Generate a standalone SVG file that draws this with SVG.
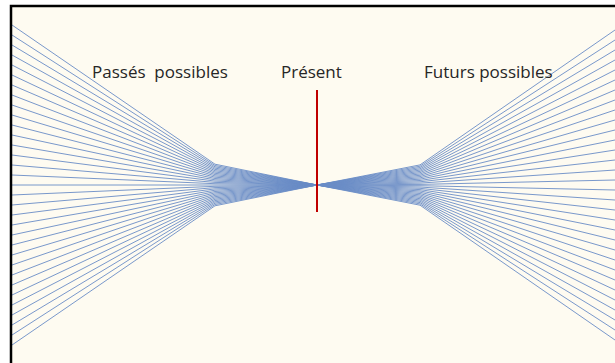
<svg xmlns="http://www.w3.org/2000/svg" width="615" height="363" viewBox="0 0 615 363">
<style>
.ln{fill:none;stroke:#6a8cc6;stroke-width:0.9;stroke-linejoin:round}
.lb{font-family:"Open Sans","Liberation Sans",sans-serif;font-size:17px;fill:#262626;white-space:pre}
</style>
<rect x="0" y="0" width="615" height="363" fill="#ffffff"/>
<rect x="11" y="6" width="604" height="357" fill="#fefbf1"/>
<g id="connectors">
<g id="past">
<polyline class="ln" points="12,25 215,164.2 317,185"/>
<polyline class="ln" points="12,35 215,165.5 317,185"/>
<polyline class="ln" points="12,45 215,166.8 317,185"/>
<polyline class="ln" points="12,55 215,168.1 317,185"/>
<polyline class="ln" points="12,65 215,169.4 317,185"/>
<polyline class="ln" points="12,75 215,170.7 317,185"/>
<polyline class="ln" points="12,85 215,172 317,185"/>
<polyline class="ln" points="12,95 215,173.3 317,185"/>
<polyline class="ln" points="12,105 215,174.6 317,185"/>
<polyline class="ln" points="12,115 215,175.9 317,185"/>
<polyline class="ln" points="12,125 215,177.2 317,185"/>
<polyline class="ln" points="12,135 215,178.5 317,185"/>
<polyline class="ln" points="12,145 215,179.8 317,185"/>
<polyline class="ln" points="12,155 215,181.1 317,185"/>
<polyline class="ln" points="12,165 215,182.4 317,185"/>
<polyline class="ln" points="12,175 215,183.7 317,185"/>
<polyline class="ln" points="12,185 215,185 317,185"/>
<polyline class="ln" points="12,195 215,186.3 317,185"/>
<polyline class="ln" points="12,205 215,187.6 317,185"/>
<polyline class="ln" points="12,215 215,188.9 317,185"/>
<polyline class="ln" points="12,225 215,190.2 317,185"/>
<polyline class="ln" points="12,235 215,191.5 317,185"/>
<polyline class="ln" points="12,245 215,192.8 317,185"/>
<polyline class="ln" points="12,255 215,194.1 317,185"/>
<polyline class="ln" points="12,265 215,195.4 317,185"/>
<polyline class="ln" points="12,275 215,196.7 317,185"/>
<polyline class="ln" points="12,285 215,198 317,185"/>
<polyline class="ln" points="12,295 215,199.3 317,185"/>
<polyline class="ln" points="12,305 215,200.6 317,185"/>
<polyline class="ln" points="12,315 215,201.9 317,185"/>
<polyline class="ln" points="12,325 215,203.2 317,185"/>
<polyline class="ln" points="12,335 215,204.5 317,185"/>
<polyline class="ln" points="12,345 215,205.8 317,185"/>
</g>
<g id="future">
<polyline class="ln" points="317,185 420,164.9 615,30"/>
<polyline class="ln" points="317,185 420,166.2 615,40"/>
<polyline class="ln" points="317,185 420,167.5 615,50"/>
<polyline class="ln" points="317,185 420,168.8 615,60"/>
<polyline class="ln" points="317,185 420,170.1 615,70"/>
<polyline class="ln" points="317,185 420,171.4 615,80"/>
<polyline class="ln" points="317,185 420,172.7 615,90"/>
<polyline class="ln" points="317,185 420,174 615,100"/>
<polyline class="ln" points="317,185 420,175.3 615,110"/>
<polyline class="ln" points="317,185 420,176.6 615,120"/>
<polyline class="ln" points="317,185 420,177.9 615,130"/>
<polyline class="ln" points="317,185 420,179.2 615,140"/>
<polyline class="ln" points="317,185 420,180.5 615,150"/>
<polyline class="ln" points="317,185 420,181.8 615,160"/>
<polyline class="ln" points="317,185 420,183.1 615,170"/>
<polyline class="ln" points="317,185 420,184.4 615,180"/>
<polyline class="ln" points="317,185 420,185.7 615,190"/>
<polyline class="ln" points="317,185 420,187 615,200"/>
<polyline class="ln" points="317,185 420,188.3 615,210"/>
<polyline class="ln" points="317,185 420,189.6 615,220"/>
<polyline class="ln" points="317,185 420,190.9 615,230"/>
<polyline class="ln" points="317,185 420,192.2 615,240"/>
<polyline class="ln" points="317,185 420,193.5 615,250"/>
<polyline class="ln" points="317,185 420,194.8 615,260"/>
<polyline class="ln" points="317,185 420,196.1 615,270"/>
<polyline class="ln" points="317,185 420,197.4 615,280"/>
<polyline class="ln" points="317,185 420,198.7 615,290"/>
<polyline class="ln" points="317,185 420,200 615,300"/>
<polyline class="ln" points="317,185 420,201.3 615,310"/>
<polyline class="ln" points="317,185 420,202.6 615,320"/>
<polyline class="ln" points="317,185 420,203.9 615,330"/>
<polyline class="ln" points="317,185 420,205.2 615,340"/>
</g>
</g>
<g id="present-marker">
<line x1="317" y1="90" x2="317" y2="212" stroke="#c00000" stroke-width="2"/>
</g>
<g id="frame">
<polyline points="11,363 11,6 615,6" fill="none" stroke="#000000" stroke-width="2.5"/>
</g>
<g id="label-past"><text class="lb" x="92" y="78" xml:space="preserve">Passés  possibles</text></g>
<g id="label-present"><text class="lb" x="281" y="78">Présent</text></g>
<g id="label-future"><text class="lb" x="424" y="78">Futurs possibles</text></g>
</svg>
